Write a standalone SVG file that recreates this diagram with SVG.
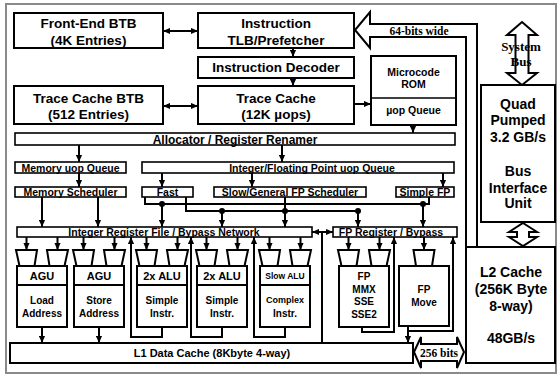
<svg xmlns="http://www.w3.org/2000/svg" width="559" height="376" viewBox="0 0 559 376">
<style>
.box{fill:#fff;stroke:#000;stroke-width:2}
.bar{fill:#fff;stroke:#000;stroke-width:1.6}
.trap{fill:#fff;stroke:#000;stroke-width:2}
.t{font-family:"Liberation Sans",Arial,sans-serif;font-weight:bold;text-anchor:middle;fill:#000}
.big{font-size:13.5px}
.l2{font-size:14px}
.sm{font-size:10.5px}
.u{font-size:10px}
.hd{font-size:11px}
.s9{font-size:8.5px}
.sf{font-family:"Liberation Serif","Times New Roman",serif;font-weight:bold;text-anchor:middle;fill:#000}
.ln{fill:none;stroke:#000;stroke-width:2}
.ar{marker-end:url(#ah)}
.dar{marker-start:url(#ah);marker-end:url(#ah)}
.hol{fill:#fff;stroke:#000;stroke-width:2;stroke-linejoin:miter}
</style>
<defs>
<marker id="ah" viewBox="0 0 8 8" refX="8" refY="4" markerWidth="7" markerHeight="7" markerUnits="userSpaceOnUse" orient="auto-start-reverse">
<path d="M0,0.5 L8,4 L0,7.5 Z" fill="#000"/>
</marker>
</defs>
<rect width="559" height="376" fill="#fff"/>
<rect x="6" y="4" width="550" height="369" fill="none" stroke="#8a8a8a" stroke-width="2"/>

<!-- hollow bus arrows -->
<g id="bus64">
<path class="hol" d="M466,247 V37 H370 V48 L355,30 L370,12 V24 H477 V247"/>
<text class="sf" x="419" y="35" font-size="11.5">64-bits wide</text>
</g>
<g id="system-bus">
<path class="hol" d="M522,22 L537,35 H528.5 V73 H537 L522,85 L507,73 H515.5 V35 H507 Z"/>
<text class="sf" x="521" y="51" font-size="13">System</text>
<text class="sf" x="521" y="66" font-size="13">Bus</text>
</g>
<g id="quad-l2-link">
<path class="hol" d="M523,223 L537,232 H529 V237 H537 L523,246 L509,237 H517 V232 H509 Z"/>
</g>

<g id="fe-btb">
<rect class="box" x="14" y="13" width="149" height="35"/>
<text class="t big" x="88.5" y="28">Front-End BTB</text>
<text class="t big" x="88.5" y="45">(4K Entries)</text>
</g>
<g id="tlb">
<rect class="box" x="198" y="13" width="156" height="35"/>
<text class="t big" x="276" y="28">Instruction</text>
<text class="t big" x="276" y="45">TLB/Prefetcher</text>
</g>
<g id="decoder">
<rect class="box" x="198" y="57" width="156" height="21"/>
<text class="t big" x="276" y="72">Instruction Decoder</text>
</g>
<g id="tc-btb">
<rect class="box" x="14" y="86" width="149" height="38"/>
<text class="t big" x="88.5" y="103">Trace Cache BTB</text>
<text class="t big" x="88.5" y="119">(512 Entries)</text>
</g>
<g id="trace-cache">
<rect class="box" x="198" y="86" width="156" height="38"/>
<text class="t big" x="276" y="103">Trace Cache</text>
<text class="t big" x="276" y="119">(12K µops)</text>
</g>
<g id="microcode">
<rect class="box" x="371" y="56" width="85" height="69"/>
<line x1="371" y1="98" x2="456" y2="98" stroke="#000" stroke-width="1.5"/>
<text class="t sm" x="413.5" y="76">Microcode</text>
<text class="t sm" x="413.5" y="88">ROM</text>
<text class="t sm" x="413.5" y="114">µop Queue</text>
</g>
<g id="quad">
<rect class="box" x="481" y="85" width="74" height="137"/>
<text class="t l2" x="518" y="109">Quad</text>
<text class="t l2" x="518" y="125">Pumped</text>
<text class="t l2" x="518" y="142">3.2 GB/s</text>
<text class="t l2" x="518" y="176">Bus</text>
<text class="t l2" x="518" y="193">Interface</text>
<text class="t l2" x="518" y="208">Unit</text>
</g>
<g id="l2">
<rect class="box" x="466" y="247" width="89" height="116"/>
<text class="t l2" x="511" y="277">L2 Cache</text>
<text class="t l2" x="511" y="294">(256K Byte</text>
<text class="t l2" x="511" y="311">8-way)</text>
<text class="t l2" x="511" y="343">48GB/s</text>
</g>

<g id="allocator">
<rect class="bar" x="15" y="133" width="440" height="12"/>
<text class="t" font-size="12" x="235" y="143.5">Allocator / Register Renamer</text>
</g>
<g id="mem-uop-queue">
<rect class="bar" x="15" y="162" width="111" height="11"/>
<text class="t sm" x="70.5" y="171.5">Memory uop Queue</text>
</g>
<g id="int-fp-queue">
<rect class="bar" x="142" y="162" width="312" height="11"/>
<text class="t sm" x="312" y="171.5">Integer/Floating Point uop Queue</text>
</g>
<g id="mem-sched">
<rect class="bar" x="15" y="187" width="111" height="10"/>
<text class="t sm" x="70.5" y="196">Memory Scheduler</text>
</g>
<g id="fast">
<rect class="bar" x="142" y="187" width="51" height="10"/>
<text class="t sm" x="167.5" y="196">Fast</text>
</g>
<g id="slow-sched">
<rect class="bar" x="214" y="187" width="152" height="10"/>
<text class="t sm" x="290" y="196">Slow/General FP Scheduler</text>
</g>
<g id="simple-fp">
<rect class="bar" x="396" y="187" width="58" height="10"/>
<text class="t sm" x="425" y="196">Simple FP</text>
</g>
<g id="irf">
<rect class="bar" x="17" y="227" width="295" height="10"/>
<text class="t sm" x="164" y="236">Integer Register File / Bypass Network</text>
</g>
<g id="fp-reg">
<rect class="bar" x="333" y="227" width="124" height="10"/>
<text class="t sm" x="391" y="236">FP Register / Bypass</text>
</g>

<g id="agu-load">
<path class="trap" d="M16,250 H37 L34.5,266 H19.5 Z M47,250 H68 L64.5,266 H49.5 Z"/>
<rect class="box" x="17" y="266" width="50" height="61"/>
<line x1="17" y1="285" x2="67" y2="285" stroke="#000" stroke-width="2"/>
<text class="t hd" x="42" y="280">AGU</text>
<text class="t u" x="42" y="304">Load</text>
<text class="t u" x="42" y="317">Address</text>
</g>
<g id="agu-store">
<path class="trap" d="M73,250 H94 L91.5,266 H76.5 Z M104,250 H125 L121.5,266 H106.5 Z"/>
<rect class="box" x="74" y="266" width="50" height="61"/>
<line x1="74" y1="285" x2="124" y2="285" stroke="#000" stroke-width="2"/>
<text class="t hd" x="99" y="280">AGU</text>
<text class="t u" x="99" y="304">Store</text>
<text class="t u" x="99" y="317">Address</text>
</g>
<g id="alu1">
<path class="trap" d="M136,250 H157 L154.5,266 H139.5 Z M167,250 H188 L184.5,266 H169.5 Z"/>
<rect class="box" x="137" y="266" width="50" height="61"/>
<line x1="137" y1="285" x2="187" y2="285" stroke="#000" stroke-width="2"/>
<text class="t hd" x="162" y="280">2x ALU</text>
<text class="t u" x="162" y="304">Simple</text>
<text class="t u" x="162" y="317">Instr.</text>
</g>
<g id="alu2">
<path class="trap" d="M196,250 H217 L214.5,266 H199.5 Z M227,250 H248 L244.5,266 H229.5 Z"/>
<rect class="box" x="197" y="266" width="50" height="61"/>
<line x1="197" y1="285" x2="247" y2="285" stroke="#000" stroke-width="2"/>
<text class="t hd" x="222" y="280">2x ALU</text>
<text class="t u" x="222" y="304">Simple</text>
<text class="t u" x="222" y="317">Instr.</text>
</g>
<g id="slow-alu">
<path class="trap" d="M259,250 H280 L277.5,266 H262.5 Z M290,250 H311 L307.5,266 H292.5 Z"/>
<rect class="box" x="260" y="266" width="50" height="61"/>
<line x1="260" y1="285" x2="310" y2="285" stroke="#000" stroke-width="2"/>
<text class="t s9" x="285" y="279">Slow ALU</text>
<text class="t" font-size="9" x="285" y="303">Complex</text>
<text class="t u" x="285" y="317">Instr.</text>
</g>
<g id="fp-mmx">
<path class="trap" d="M338,250 H359 L356.5,266 H341.5 Z M369,250 H390 L386.5,266 H371.5 Z"/>
<rect class="box" x="339" y="266" width="50" height="61"/>
<text class="t u" x="364" y="280">FP</text>
<text class="t u" x="364" y="293">MMX</text>
<text class="t u" x="364" y="305">SSE</text>
<text class="t u" x="364" y="318">SSE2</text>
</g>
<g id="fp-move">
<path class="trap" d="M413.5,250 H434.5 L432,266 H416 Z"/>
<rect class="box" x="399" y="266" width="50" height="60"/>
<text class="t u" x="424" y="293">FP</text>
<text class="t u" x="424" y="306">Move</text>
</g>
<g id="l1">
<rect class="box" x="10" y="343" width="403" height="20"/>
<text class="t" font-size="11" x="212" y="357">L1 Data Cache (8Kbyte 4-way)</text>
</g>
<g id="bits256">
<path class="hol" d="M414,352 L421,337 V344 H457 V337 L464,352 L457,368 V361 H421 V368 Z"/>
<text class="sf" x="439" y="356.5" font-size="11.5">256 bits</text>
</g>

<g id="connectors">
<path class="ln dar" d="M163,31 H198"/>
<path class="ln ar" d="M293,48 V57"/>
<path class="ln ar" d="M293,78 V86"/>
<path class="ln dar" d="M163,106 H198"/>
<path class="ln ar" d="M354,104 H371"/>
<path class="ln ar" d="M413,125 V133"/>
<path class="ln ar" d="M79,145 V162"/>
<path class="ln ar" d="M282,145 V162"/>
<path class="ln ar" d="M79,173 V187"/>
<path class="ln ar" d="M162,173 V187"/>
<path class="ln ar" d="M252,173 V187"/>
<path class="ln ar" d="M443,173 V187"/>
<path class="ln ar" d="M42,197 V227"/>
<path class="ln ar" d="M98,197 V227"/>
<path class="ln" d="M145,197 V204 H429 V197"/>
<path class="ln" d="M186,197 V211 H358"/>
<path class="ln ar" d="M285,197 V227"/>
<path class="ln ar" d="M162,204 V227"/>
<path class="ln ar" d="M222,211 V227"/>
<path class="ln ar" d="M358,211 V227"/>
<path class="ln ar" d="M423,204 V227"/>
<circle cx="162" cy="204" r="3"/>
<circle cx="222" cy="211" r="3"/>
<circle cx="285" cy="211" r="3"/>
<circle cx="358" cy="211" r="3"/>
<circle cx="423" cy="204" r="3"/>
<path class="ln dar" d="M312,232 H333"/>
<path class="ln" d="M322,232 V343"/>
<path class="ln ar" d="M26.5,237 V250"/>
<path class="ln ar" d="M57.5,237 V250"/>
<path class="ln ar" d="M83.5,237 V250"/>
<path class="ln ar" d="M114.5,237 V250"/>
<path class="ln ar" d="M146.5,237 V250"/>
<path class="ln ar" d="M177.5,237 V250"/>
<path class="ln ar" d="M206.5,237 V250"/>
<path class="ln ar" d="M237.5,237 V250"/>
<path class="ln ar" d="M269.5,237 V250"/>
<path class="ln ar" d="M300.5,237 V250"/>
<path class="ln ar" d="M348.5,237 V250"/>
<path class="ln ar" d="M379.5,237 V250"/>
<path class="ln ar" d="M424,237 V250"/>
<path class="ln ar" d="M162,327 V337 H131 V237"/>
<path class="ln ar" d="M222,327 V337 H191 V237"/>
<path class="ln ar" d="M285,327 V337 H254 V237"/>
<path class="ln ar" d="M362,327 V332 H394 V237"/>
<path class="ln ar" d="M408,331 H453 V237"/>
<path class="ln ar" d="M408,326 V343"/>
<path class="ln ar" d="M42,327 V343"/>
<path class="ln ar" d="M99,327 V343"/>
</g>
</svg>
